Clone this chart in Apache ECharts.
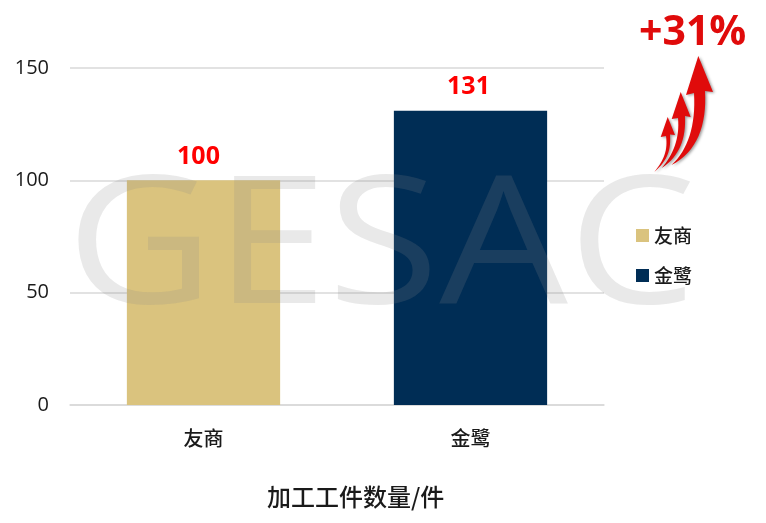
<!DOCTYPE html>
<html><head><meta charset="utf-8">
<style>html,body{margin:0;padding:0;background:#fff}#c{width:766px;height:523px}</style>
<script src="https://cdn.jsdelivr.net/npm/echarts@6/dist/echarts.min.js"></script>
</head><body><div id="c"></div>
<script>
const categories = ['友商', '金鹭'];
const seriesNames = ['友商', '金鹭'];
const vendorValues = [100, null];
const jinluValues = [null, 131];
const yTicks = [0, 50, 100, 150];
const cjk = '"Noto Sans CJK SC","Noto Sans",sans-serif';
const latin = '"Open Sans","Noto Sans CJK SC",sans-serif';
// decorative arrows: tail, inner control pts, head points, outer control pts
const arrows = [
 {tail:[671.5,165], c1:[688,150], c2:[696,125], a:[694,93], head:[[686,95],[698.3,56],[713,92]], b:[705,91], c3:[707,125], c4:[697,152]},
 {tail:[661.7,168], c1:[673,155], c2:[680,138], a:[678,118], head:[[671.7,119],[680.7,92],[690.7,117]], b:[685,116], c3:[686,138], c4:[680,156]},
 {tail:[654.3,172], c1:[664,160], c2:[668,150], a:[666,136], head:[[660.7,137],[667.7,117],[675,135]], b:[670,134.5], c3:[671,150], c4:[668,160]}
];
function bez(p0,p1,p2,p3){const o=[];for(let i=0;i<=16;i++){const t=i/16,u=1-t;
  o.push([0,1].map(k=>u*u*u*p0[k]+3*u*u*t*p1[k]+3*u*t*t*p2[k]+t*t*t*p3[k]));}return o;}
function arrowPts(r){return [...bez(r.tail,r.c1,r.c2,r.a),...r.head,...bez(r.b,r.c3,r.c4,r.tail)];}
const chart = echarts.init(document.getElementById('c'), null, {renderer:'canvas'});
const labelStyle = dx => ({show:true, position:'top', color:'#ff0000', fontSize:25, fontWeight:'bold', fontFamily:latin, distance:11, offset:[dx,0],
  formatter:p=>p.value==null?'':String(p.value)});
chart.setOption({
  animation:false,
  grid:{left:70, right:162, top:68, bottom:118, containLabel:false},
  xAxis:{type:'category', data:categories,
    axisLine:{lineStyle:{color:'#d9d9d9',width:1.5}}, axisTick:{show:false},
    axisLabel:{color:'#1a1a1a', fontSize:20, fontWeight:500, fontFamily:cjk, margin:23}},
  yAxis:{type:'value', min:yTicks[0], max:yTicks[3], interval:50,
    axisLine:{show:false}, axisTick:{show:false},
    splitLine:{lineStyle:{color:'#d9d9d9',width:1.5}},
    axisLabel:{color:'#1a1a1a', fontSize:20, fontFamily:latin, margin:21}},
  legend:{orient:'vertical', left:631, top:221, itemWidth:13, itemHeight:13, itemGap:21,
    icon:'rect', data:seriesNames, selectedMode:false,
    textStyle:{color:'#1a1a1a', fontSize:19, fontWeight:500, fontFamily:cjk}},
  series:[
    {name:seriesNames[0], type:'bar', stack:'t', barWidth:'57.4%', data:vendorValues, itemStyle:{color:'#dac37e'}, label:labelStyle(-5)},
    {name:seriesNames[1], type:'bar', stack:'t', barWidth:'57.4%', data:jinluValues, itemStyle:{color:'#002d55'}, label:labelStyle(-2)}
  ],
  graphic:[
    {type:'text', x:66, y:163, scaleX:1.145, z:100, silent:true,
      style:{text:'GESAC', fill:'rgba(137,137,137,0.19)', fontSize:178, fontFamily:'"Open Sans",sans-serif', fontWeight:400}},
    {type:'text', left:639, top:13, z:100,
      style:{text:'+31%', fill:'#e00b0b', fontSize:41, fontWeight:'bold', fontFamily:'"Open Sans",sans-serif'}},
    {type:'text', left:267, top:485, z:100,
      style:{text:'加工工件数量/件', fill:'#1a1a1a', fontSize:24, fontWeight:500, fontFamily:cjk}},
    ...arrows.map(r=>({type:'polygon', z:101, silent:true, shape:{points:arrowPts(r)},
      style:{fill:'#e00b0b', shadowColor:'rgba(0,0,0,0.4)', shadowBlur:3, shadowOffsetX:1.5, shadowOffsetY:1}}))
  ]
});
</script></body></html>
